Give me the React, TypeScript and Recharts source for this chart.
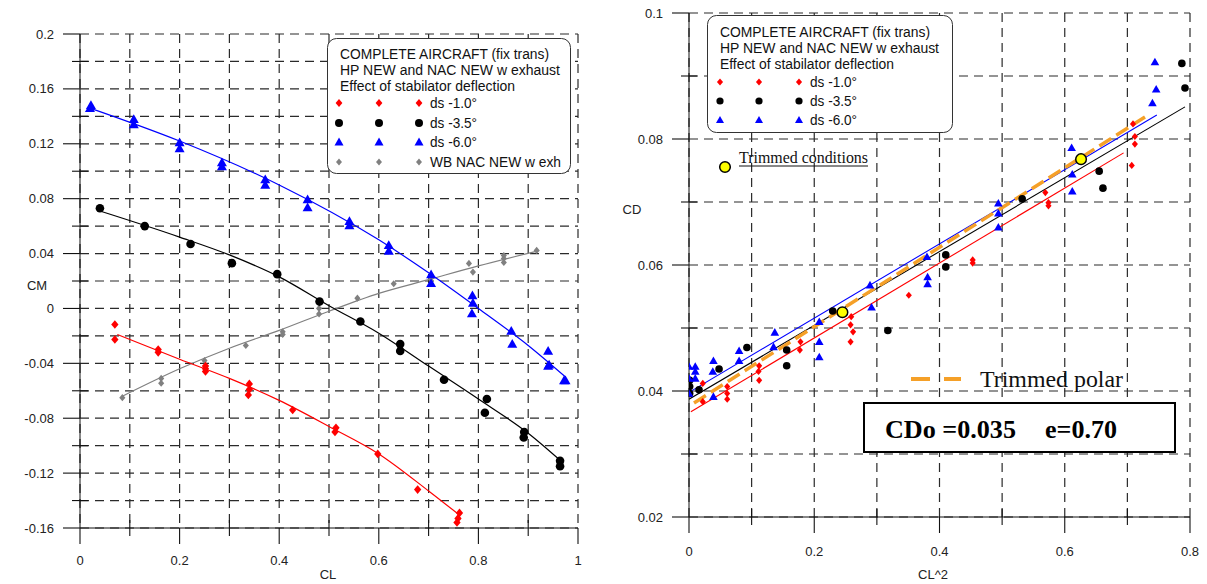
import React from 'react';
import { ComposedChart, Scatter, Line, XAxis, YAxis, CartesianGrid } from 'recharts';

type P = { x: number; y: number };
const pts = (a: number[][]): P[] => a.map(([x, y]) => ({ x, y }));

// ---------- Left chart: CM vs CL ----------
const leftXTicks = [0, 0.1, 0.2, 0.3, 0.4, 0.5, 0.6, 0.7, 0.8, 0.9, 1];
const leftYTicks = [-0.16, -0.14, -0.12, -0.1, -0.08, -0.06, -0.04, -0.02, 0, 0.02, 0.04, 0.06, 0.08, 0.1, 0.12, 0.14, 0.16, 0.18, 0.2];

const cmDs10 = pts([
  [0.07, -0.0117], [0.07, -0.0226], [0.157, -0.03], [0.157, -0.032], [0.252, -0.042], [0.252, -0.044],
  [0.252, -0.046], [0.34, -0.055], [0.34, -0.059], [0.338, -0.063], [0.427, -0.074], [0.514, -0.087],
  [0.512, -0.09], [0.598, -0.106], [0.678, -0.132], [0.762, -0.149], [0.759, -0.153], [0.757, -0.156],
]);
const cmDs35 = pts([
  [0.04, 0.073], [0.13, 0.06], [0.222, 0.047], [0.305, 0.033], [0.396, 0.025], [0.481, 0.005],
  [0.563, -0.0095], [0.643, -0.026], [0.643, -0.031], [0.731, -0.052], [0.817, -0.066], [0.813, -0.076],
  [0.892, -0.09], [0.891, -0.094], [0.964, -0.111], [0.964, -0.115],
]);
const cmDs60 = pts([
  [0.022, 0.148], [0.02, 0.1458], [0.108, 0.1378], [0.108, 0.134], [0.2, 0.121], [0.2, 0.1166],
  [0.285, 0.1064], [0.285, 0.1035], [0.372, 0.094], [0.372, 0.09], [0.457, 0.0794], [0.457, 0.0736],
  [0.541, 0.0636], [0.541, 0.0605], [0.62, 0.046], [0.62, 0.0418], [0.705, 0.0248], [0.705, 0.0184],
  [0.788, 0.0095], [0.789, 0.004], [0.787, -0.0036], [0.866, -0.0165], [0.868, -0.026], [0.94, -0.031],
  [0.94, -0.042], [0.942, -0.041], [0.972, -0.0525], [0.975, -0.0525],
]);
const cmWbNac = pts([
  [0.085, -0.065], [0.163, -0.051], [0.163, -0.0545], [0.25, -0.038], [0.333, -0.027], [0.407, -0.017],
  [0.407, -0.019], [0.48, 0.0], [0.48, -0.004], [0.557, 0.0075], [0.63, 0.018], [0.705, 0.022],
  [0.781, 0.0328], [0.789, 0.0265], [0.851, 0.0386], [0.851, 0.0364], [0.851, 0.0335], [0.917, 0.0423],
]);
const cmFit10 = pts([[0.075, -0.019], [0.2, -0.037], [0.3, -0.051], [0.4, -0.067], [0.5, -0.086], [0.6, -0.106], [0.7, -0.133], [0.76, -0.15]]);
const cmFit35 = pts([[0.04, 0.071], [0.2, 0.052], [0.3, 0.039], [0.4, 0.023], [0.5, 0.002], [0.6, -0.018], [0.7, -0.042], [0.8, -0.066], [0.9, -0.091], [0.965, -0.111]]);
const cmFit60 = pts([[0.02, 0.146], [0.2, 0.122], [0.4, 0.09], [0.6, 0.05], [0.7, 0.026], [0.8, 0.0], [0.9, -0.027], [0.975, -0.05]]);
const cmFitWb = pts([[0.085, -0.064], [0.2, -0.044], [0.3, -0.029], [0.4, -0.016], [0.5, -0.002], [0.6, 0.011], [0.7, 0.021], [0.8, 0.031], [0.92, 0.042]]);

// ---------- Right chart: CD vs CL^2 ----------
const rightXTicks = [0, 0.1, 0.2, 0.3, 0.4, 0.5, 0.6, 0.7, 0.8];
const rightYTicks = [0.02, 0.03, 0.04, 0.05, 0.06, 0.07, 0.08, 0.09, 0.1];

const cdDs10 = pts([
  [0.709, 0.0824], [0.712, 0.0804], [0.712, 0.0792], [0.707, 0.0758], [0.569, 0.0715], [0.574, 0.0699],
  [0.574, 0.0694], [0.453, 0.0608], [0.453, 0.0603], [0.351, 0.0552], [0.259, 0.0518], [0.258, 0.0505],
  [0.262, 0.0494], [0.258, 0.0478], [0.178, 0.0478], [0.177, 0.0465], [0.112, 0.044], [0.111, 0.0431],
  [0.112, 0.0417], [0.061, 0.0407], [0.061, 0.0396], [0.061, 0.0387], [0.022, 0.0412], [0.022, 0.0383], [0.0, 0.041],
]);
const cdDs35 = pts([
  [0.787, 0.092], [0.792, 0.0881], [0.655, 0.0749], [0.661, 0.0722], [0.532, 0.0705], [0.41, 0.0616],
  [0.41, 0.0597], [0.2295, 0.0527], [0.3175, 0.0496], [0.156, 0.0465], [0.156, 0.044], [0.0925, 0.0469],
  [0.048, 0.0435], [0.016, 0.0402], [0.001, 0.0417], [0.001, 0.0407], [0.001, 0.0396],
]);
const cdDs60 = pts([
  [0.744, 0.0922], [0.746, 0.0879], [0.74, 0.0857], [0.611, 0.0786], [0.612, 0.0744], [0.612, 0.0717],
  [0.494, 0.0698], [0.494, 0.0682], [0.494, 0.066], [0.38, 0.0613], [0.381, 0.0581], [0.381, 0.057],
  [0.289, 0.0568], [0.2915, 0.0533], [0.208, 0.051], [0.208, 0.0478], [0.208, 0.0454], [0.137, 0.0493],
  [0.135, 0.047], [0.08, 0.0464], [0.08, 0.0448], [0.039, 0.0448], [0.038, 0.0431], [0.039, 0.0391],
  [0.01, 0.0439], [0.01, 0.0431], [0.01, 0.042], [0.0, 0.0439], [0.0, 0.042], [0.0, 0.0396],
]);
const cdTrimmed = pts([[0.245, 0.0525], [0.626, 0.0768]]);
const cdFit10 = pts([[0.003, 0.0367], [0.694, 0.0778]]);
const cdFit35 = pts([[0.0, 0.0387], [0.792, 0.0851]]);
const cdFit60 = pts([[0.002, 0.0399], [0.747, 0.0838]]);
const cdTrimmedPolar = pts([[0.008, 0.0381], [0.733, 0.0838]]);

// ---------- styling ----------
const SANS = '"Liberation Sans", Arial, sans-serif';
const SERIF = '"Liberation Serif", "Times New Roman", serif';
const RED = '#ff0000';
const BLUE = '#0000ff';
const GRAY = '#808080';
const ORANGE = '#f5a028';
const GRID = '#2a2a2a';

const fmt = (v: number) => String(Number(v.toFixed(2)));

const Diamond = ({ cx, cy, r, fill }: any) => (
  <polygon points={`${cx},${cy - r} ${cx + r * 0.85},${cy} ${cx},${cy + r} ${cx - r * 0.85},${cy}`} fill={fill} />
);
const Tri = ({ cx, cy, r, fill }: any) => (
  <polygon points={`${cx},${cy - r} ${cx + r},${cy + r * 0.75} ${cx - r},${cy + r * 0.75}`} fill={fill} />
);
const Dot = ({ cx, cy, r, fill }: any) => <circle cx={cx} cy={cy} r={r} fill={fill} />;

function makeYTick(isMajor: (v: number) => boolean, gap: number) {
  return (props: any) => {
    const { x, y, payload } = props;
    const v = payload.value;
    const major = isMajor(v);
    return (
      <g>
        <line x1={major ? x - 17 : x - 8} y1={y} x2={major ? x : x + 8} y2={y} stroke="#111" strokeWidth={1.1} />
        {major && (
          <text x={x - gap} y={y + 4.5} textAnchor="end" fontSize={13} fill="#222" fontFamily={SANS}>
            {fmt(v)}
          </text>
        )}
      </g>
    );
  };
}
function makeXTick(isMajor: (v: number) => boolean, dy: number) {
  return (props: any) => {
    const { x, y, payload } = props;
    const v = payload.value;
    const major = isMajor(v);
    return (
      <g>
        <line x1={x} y1={major ? y : y - 8} x2={x} y2={major ? y + 16 : y + 8} stroke="#111" strokeWidth={1.1} />
        {major && (
          <text x={x} y={y + dy} textAnchor="middle" fontSize={13} fill="#222" fontFamily={SANS}>
            {fmt(v)}
          </text>
        )}
      </g>
    );
  };
}

const leftYTick = makeYTick((v) => Math.abs(Math.round(v * 100)) % 4 === 0, 26);
const leftXTick = makeXTick((v) => Math.round(v * 10) % 2 === 0, 37);
const rightYTick = makeYTick((v) => Math.round(v * 100) % 2 === 0, 26);
const rightXTick = makeXTick((v) => Math.round(v * 10) % 2 === 0, 39);

function LegendBlock({ x, y, w, h, lines, lens, rows, mx, lx, lineY, rowY }: any) {
  return (
    <g>
      <rect x={x} y={y} width={w} height={h} rx={9} ry={9} fill="#fff" stroke="#333" strokeWidth={1} />
      {lines.map((t: string, i: number) => (
        <text key={t} x={lx[0]} y={lineY[i] + 5} fontSize={14} fill="#111" fontFamily={SANS} textLength={lens[i]} lengthAdjust="spacingAndGlyphs">
          {t}
        </text>
      ))}
      {rows.map((r: any, i: number) => (
        <g key={r.label}>
          {mx.map((m: number) => (
            <g key={m}>{r.marker(m, rowY[i])}</g>
          ))}
          <text x={lx[1]} y={rowY[i] + 5} fontSize={14} fill="#111" fontFamily={SANS} textLength={r.len} lengthAdjust="spacingAndGlyphs">
            {r.label}
          </text>
        </g>
      ))}
    </g>
  );
}

export default function App() {
  return (
    <div style={{ position: 'absolute', left: 0, top: 0, width: 1207, height: 584, background: '#fff', fontFamily: SANS }}>
      <div style={{ position: 'absolute', left: 0, top: 0 }}>
        <ComposedChart width={600} height={584} margin={{ top: 34, right: 22, bottom: 16, left: 0 }}>
          <CartesianGrid stroke={GRID} strokeDasharray="9 6" strokeWidth={1.2} />
          <XAxis type="number" dataKey="x" domain={[0, 1]} ticks={leftXTicks} interval={0} tick={leftXTick}
            tickLine={false} tickSize={0} tickMargin={0} height={40} axisLine={{ stroke: '#111' }} allowDataOverflow />
          <YAxis type="number" dataKey="y" domain={[-0.16, 0.2]} ticks={leftYTicks} interval={0} tick={leftYTick}
            tickLine={false} tickSize={0} tickMargin={0} width={80} axisLine={{ stroke: '#111' }} allowDataOverflow />
          <Line data={cmFitWb} dataKey="y" type="monotone" stroke={GRAY} strokeWidth={1.2} dot={false} isAnimationActive={false} />
          <Line data={cmFit10} dataKey="y" type="monotone" stroke={RED} strokeWidth={1.2} dot={false} isAnimationActive={false} />
          <Line data={cmFit35} dataKey="y" type="monotone" stroke="#000" strokeWidth={1.2} dot={false} isAnimationActive={false} />
          <Line data={cmFit60} dataKey="y" type="monotone" stroke={BLUE} strokeWidth={1.2} dot={false} isAnimationActive={false} />
          <Scatter data={cmWbNac} dataKey="y" isAnimationActive={false} shape={(p: any) => <Diamond cx={p.cx} cy={p.cy} r={3.6} fill={GRAY} />} />
          <Scatter data={cmDs10} dataKey="y" isAnimationActive={false} shape={(p: any) => <Diamond cx={p.cx} cy={p.cy} r={4.3} fill={RED} />} />
          <Scatter data={cmDs35} dataKey="y" isAnimationActive={false} shape={(p: any) => <Dot cx={p.cx} cy={p.cy} r={4.3} fill="#000" />} />
          <Scatter data={cmDs60} dataKey="y" isAnimationActive={false} shape={(p: any) => <Tri cx={p.cx} cy={p.cy} r={5} fill={BLUE} />} />
        </ComposedChart>
      </div>
      <div style={{ position: 'absolute', left: 600, top: 0 }}>
        <ComposedChart width={607} height={584} margin={{ top: 13, right: 17, bottom: 27, left: 0 }}>
          <CartesianGrid stroke={GRID} strokeDasharray="9 6" strokeWidth={1.2} />
          <XAxis type="number" dataKey="x" domain={[0, 0.8]} ticks={rightXTicks} interval={0} tick={rightXTick}
            tickLine={false} tickSize={0} tickMargin={0} height={40} axisLine={{ stroke: '#111' }} allowDataOverflow />
          <YAxis type="number" dataKey="y" domain={[0.02, 0.1]} ticks={rightYTicks} interval={0} tick={rightYTick}
            tickLine={false} tickSize={0} tickMargin={0} width={89} axisLine={{ stroke: '#111' }} allowDataOverflow />
          <Line data={cdFit10} dataKey="y" type="linear" stroke={RED} strokeWidth={1.1} dot={false} isAnimationActive={false} />
          <Line data={cdFit35} dataKey="y" type="linear" stroke="#000" strokeWidth={1.1} dot={false} isAnimationActive={false} />
          <Line data={cdFit60} dataKey="y" type="linear" stroke={BLUE} strokeWidth={1.1} dot={false} isAnimationActive={false} />
          <Line data={cdTrimmedPolar} dataKey="y" type="linear" stroke={ORANGE} strokeWidth={3.5} strokeDasharray="14 6" dot={false} isAnimationActive={false} />
          <Scatter data={cdDs10} dataKey="y" isAnimationActive={false} shape={(p: any) => <Diamond cx={p.cx} cy={p.cy} r={3.6} fill={RED} />} />
          <Scatter data={cdDs35} dataKey="y" isAnimationActive={false} shape={(p: any) => <Dot cx={p.cx} cy={p.cy} r={3.8} fill="#000" />} />
          <Scatter data={cdDs60} dataKey="y" isAnimationActive={false} shape={(p: any) => <Tri cx={p.cx} cy={p.cy} r={4.3} fill={BLUE} />} />
          <Scatter data={cdTrimmed} dataKey="y" isAnimationActive={false}
            shape={(p: any) => <circle cx={p.cx} cy={p.cy} r={5.3} fill="#ffff00" stroke="#000" strokeWidth={1.5} />} />
        </ComposedChart>
      </div>

      <svg width={1207} height={584} style={{ position: 'absolute', left: 0, top: 0, pointerEvents: 'none' }}>
        {/* axis titles */}
        <text x={37} y={290} textAnchor="middle" fontSize={13} fill="#222" fontFamily={SANS}>CM</text>
        <text x={328} y={579} textAnchor="middle" fontSize={13} fill="#222" fontFamily={SANS}>CL</text>
        <text x={632} y={214} textAnchor="middle" fontSize={13} fill="#222" fontFamily={SANS}>CD</text>
        <text x={933} y={579} textAnchor="middle" fontSize={13} fill="#222" fontFamily={SANS}>CL^2</text>

        <LegendBlock
          x={327.5} y={38.5} w={243} h={135}
          lines={['COMPLETE AIRCRAFT (fix trans)', 'HP NEW and NAC NEW w exhaust', 'Effect of stabilator deflection']}
          lens={[209, 220, 175]}
          lineY={[54, 70, 86]}
          rowY={[103, 123, 142, 162]}
          mx={[339, 379, 419]}
          lx={[340, 430]}
          rows={[
            { label: 'ds -1.0°', len: 47, marker: (x: number, y: number) => <Diamond cx={x} cy={y} r={4} fill={RED} /> },
            { label: 'ds -3.5°', len: 47, marker: (x: number, y: number) => <Dot cx={x} cy={y} r={4} fill="#000" /> },
            { label: 'ds -6.0°', len: 47, marker: (x: number, y: number) => <Tri cx={x} cy={y} r={4.5} fill={BLUE} /> },
            { label: 'WB NAC NEW w exh', len: 131, marker: (x: number, y: number) => <Diamond cx={x} cy={y} r={3.5} fill={GRAY} /> },
          ]}
        />

        <LegendBlock
          x={707.5} y={15.5} w={245} h={117}
          lines={['COMPLETE AIRCRAFT (fix trans)', 'HP NEW and NAC NEW w exhaust', 'Effect of stabilator deflection']}
          lens={[210, 219, 174]}
          lineY={[32, 48, 64]}
          rowY={[82, 101, 120]}
          mx={[720, 759, 799]}
          lx={[720, 810]}
          rows={[
            { label: 'ds -1.0°', len: 47, marker: (x: number, y: number) => <Diamond cx={x} cy={y} r={3.6} fill={RED} /> },
            { label: 'ds -3.5°', len: 47, marker: (x: number, y: number) => <Dot cx={x} cy={y} r={3.6} fill="#000" /> },
            { label: 'ds -6.0°', len: 47, marker: (x: number, y: number) => <Tri cx={x} cy={y} r={4} fill={BLUE} /> },
          ]}
        />

        {/* Trimmed conditions legend */}
        <circle cx={725} cy={167} r={5.3} fill="#ffff00" stroke="#000" strokeWidth={1.5} />
        <text x={739} y={163} fontSize={16} fill="#111" fontFamily={SERIF} textLength={129} lengthAdjust="spacingAndGlyphs">Trimmed conditions</text>
        <line x1={739} y1={166} x2={868} y2={166} stroke="#111" strokeWidth={1} />

        {/* Trimmed polar legend */}
        <line x1={911} y1={379} x2={961} y2={379} stroke={ORANGE} strokeWidth={4} strokeDasharray="19 14" />
        <text x={980} y={387} fontSize={23} fill="#111" fontFamily={SERIF} textLength={143} lengthAdjust="spacingAndGlyphs">Trimmed polar</text>

        {/* CDo box */}
        <rect x={864} y={403} width={311} height={49} fill="#fff" stroke="#000" strokeWidth={2} />
        <text x={885} y={438} fontSize={26} fontWeight="bold" fill="#000" fontFamily={SERIF} textLength={131} lengthAdjust="spacingAndGlyphs">CDo =0.035</text>
        <text x={1045} y={438} fontSize={26} fontWeight="bold" fill="#000" fontFamily={SERIF} textLength={72} lengthAdjust="spacingAndGlyphs">e=0.70</text>
      </svg>
    </div>
  );
}
